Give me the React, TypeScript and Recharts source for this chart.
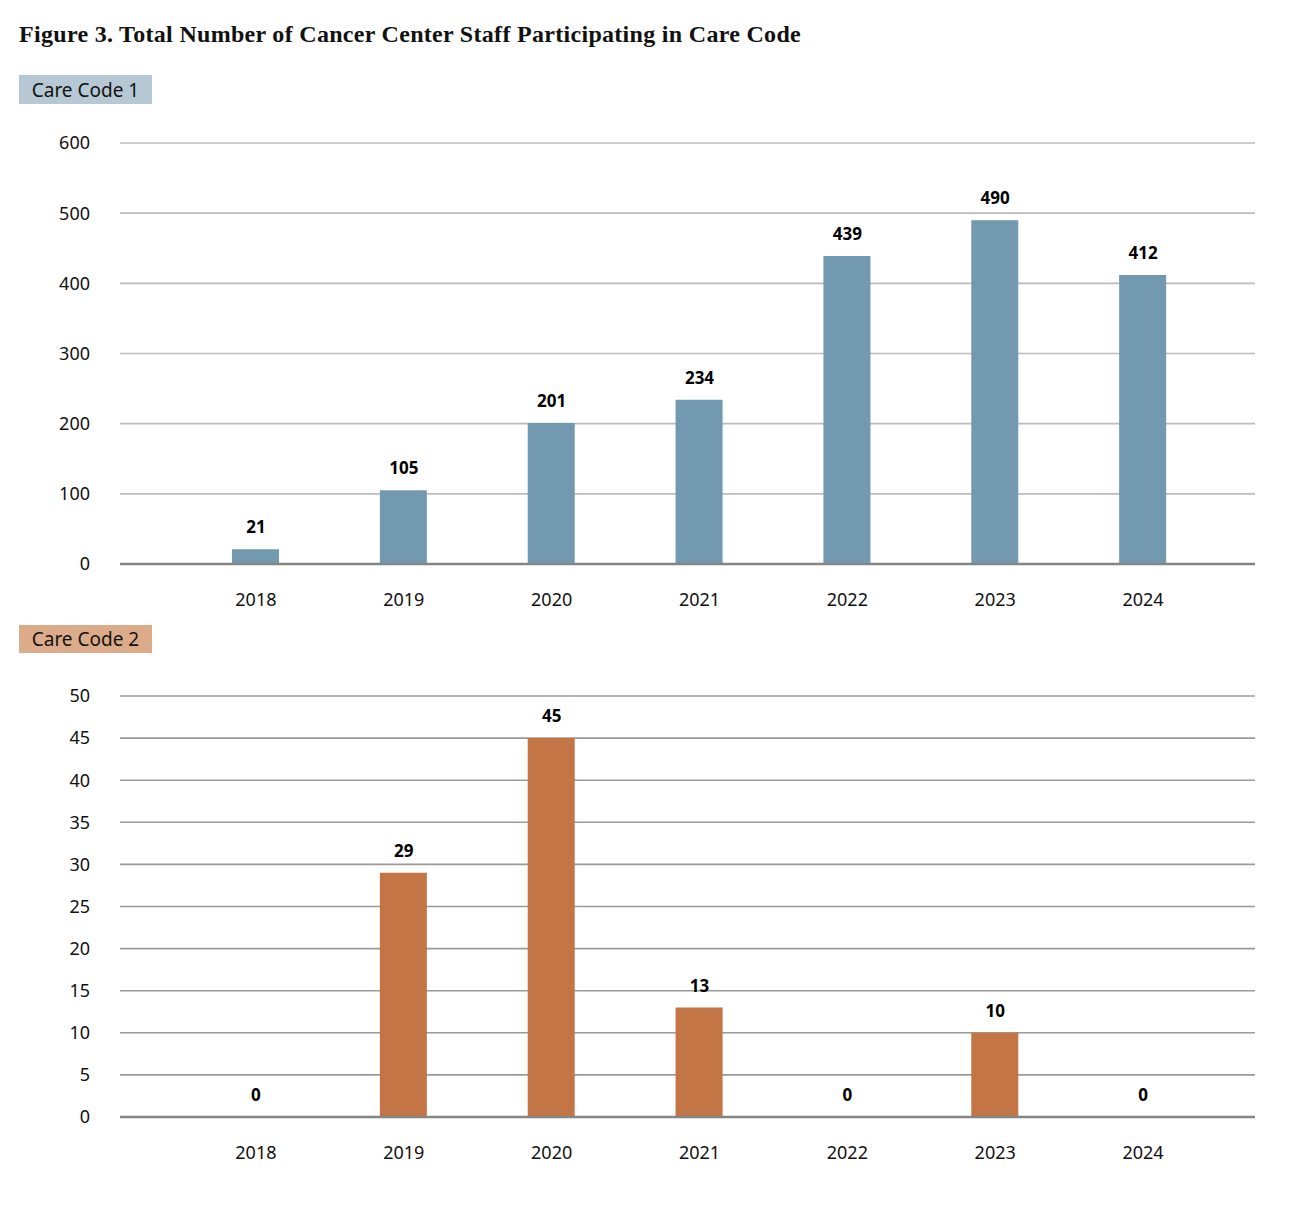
import React from "react";
import { ComposedChart, Bar, Line, XAxis, YAxis, CartesianGrid, LabelList } from "recharts";

const years = ["2018", "2019", "2020", "2021", "2022", "2023", "2024"];
const careCode1 = [21, 105, 201, 234, 439, 490, 412];
const careCode2 = [0, 29, 45, 13, 0, 10, 0];
const ticks1 = [0, 100, 200, 300, 400, 500, 600];
const ticks2 = [0, 5, 10, 15, 20, 25, 30, 35, 40, 45, 50];

const data1 = years.map((y, i) => ({ year: y, value: careCode1[i] }));
const data2 = years.map((y, i) => ({ year: y, value: careCode2[i] }));

const SANS = "'Noto Sans', 'Open Sans', sans-serif";
const tickStyle = { fontFamily: SANS, fontSize: 18, fill: "#111" };
const labelStyle = { fontFamily: SANS, fontSize: 17, fontWeight: 700, fill: "#000" };

function Panel({
  data,
  ticks,
  max,
  color,
  gridColor,
}: {
  data: { year: string; value: number }[];
  ticks: number[];
  max: number;
  color: string;
  gridColor: string;
}) {
  return (
    <ComposedChart
      width={1310}
      height={510}
      data={data}
      margin={{ top: 33, right: 55, bottom: 26, left: 0 }}
      barSize={47}
    >
      <CartesianGrid vertical={false} stroke={gridColor} strokeWidth={1.6} />
      <XAxis
        dataKey="year"
        height={30}
        padding={{ left: 62, right: 38 }}
        tickLine={false}
        tickSize={0}
        tickMargin={29}
        axisLine={{ stroke: "#858585", strokeWidth: 2.5 }}
        tick={tickStyle}
        interval={0}
      />
      <YAxis
        width={120}
        domain={[0, max]}
        ticks={ticks}
        interval={0}
        axisLine={false}
        tickLine={false}
        tickSize={0}
        tickMargin={30}
        tick={tickStyle}
      />
      <Bar dataKey="value" fill={color} isAnimationActive={false} />
      <Line
        dataKey="value"
        stroke="none"
        dot={false}
        activeDot={false}
        legendType="none"
        isAnimationActive={false}
      >
        <LabelList dataKey="value" position="top" offset={16} style={labelStyle} />
      </Line>
    </ComposedChart>
  );
}

const boxStyle = (bg: string, top: number, h: number): React.CSSProperties => ({
  position: "absolute",
  left: 19,
  top,
  width: 133,
  height: h,
  background: bg,
  fontFamily: SANS,
  fontSize: 19,
  color: "#111",
  display: "flex",
  alignItems: "center",
  justifyContent: "center",
  boxSizing: "border-box",
});

export default function App() {
  return (
    <div style={{ position: "absolute", left: 0, top: 0, width: 1310, height: 1214, background: "#fff" }}>
      <div
        style={{
          position: "absolute",
          left: 19,
          top: 21,
          fontFamily: "'Liberation Serif', 'DejaVu Serif', serif",
          fontWeight: 700,
          fontSize: 24,
          letterSpacing: 0.3,
          color: "#111",
          whiteSpace: "nowrap",
        }}
      >
        Figure 3. Total Number of Cancer Center Staff Participating in Care Code
      </div>
      <div style={boxStyle("#b5c8d3", 75, 29)}>Care Code 1</div>
      <div style={{ position: "absolute", left: 0, top: 110 }}>
        <Panel data={data1} ticks={ticks1} max={600} color="#7399b1" gridColor="#bcbcbc" />
      </div>
      <div style={boxStyle("#dcab89", 625, 28)}>Care Code 2</div>
      <div style={{ position: "absolute", left: 0, top: 663 }}>
        <Panel data={data2} ticks={ticks2} max={50} color="#c47546" gridColor="#9a9a9a" />
      </div>
    </div>
  );
}
